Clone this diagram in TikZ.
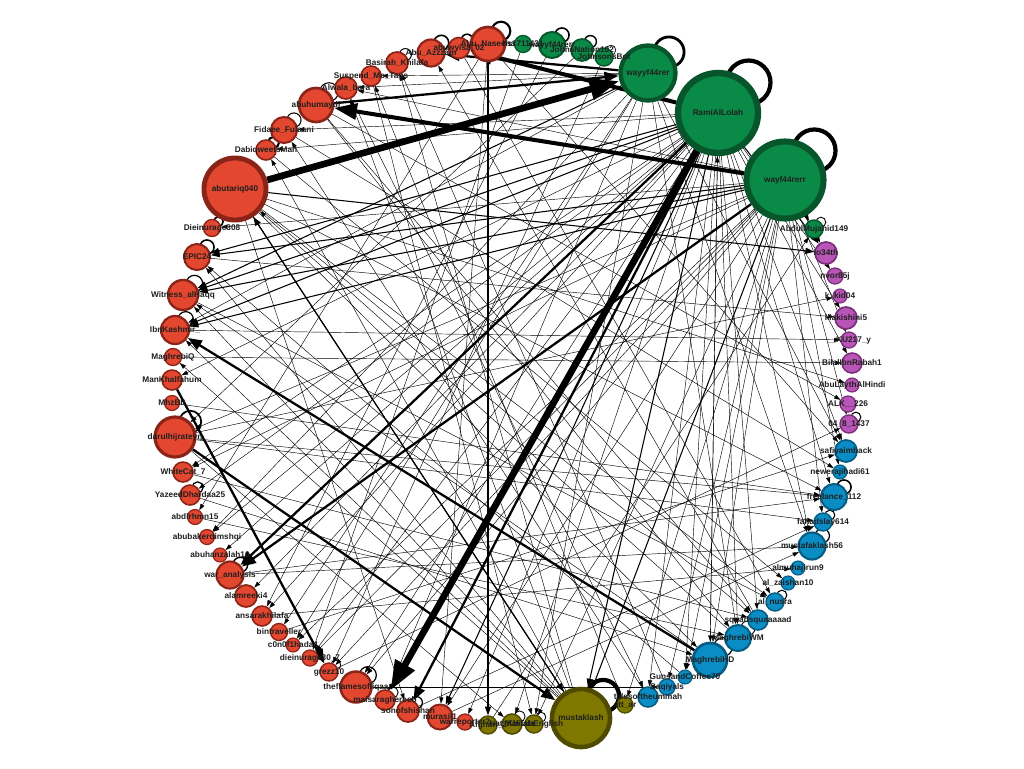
\documentclass[tikz,border=0pt]{standalone}
\usepackage{fontspec}
\setmainfont{Liberation Sans}
\usetikzlibrary{arrows.meta,backgrounds}

\definecolor{redfill}{HTML}{E4472F}
\definecolor{redline}{HTML}{8A2418}
\definecolor{grnfill}{HTML}{0A8A47}
\definecolor{grnline}{HTML}{07552B}
\definecolor{purfill}{HTML}{B856B8}
\definecolor{purline}{HTML}{7B2F7B}
\definecolor{blufill}{HTML}{0A8DC5}
\definecolor{bluline}{HTML}{075C82}
\definecolor{olvfill}{HTML}{7E7800}
\definecolor{olvline}{HTML}{4F4A00}

\tikzset{
	nd/.style={circle,inner sep=0pt,minimum size=#1*0.02cm,line width=#1*0.045pt},
	rnode/.style={nd=#1,fill=redfill,draw=redline},
	gnode/.style={nd=#1,fill=grnfill,draw=grnline},
	pnode/.style={nd=#1,fill=purfill,draw=purline},
	bnode/.style={nd=#1,fill=blufill,draw=bluline},
	onode/.style={nd=#1,fill=olvfill,draw=olvline},
	lbl/.style={font=\fontsize{4.7}{5}\selectfont\bfseries,text=black!88,inner sep=0pt},
	e0/.style={line width=0.25pt,-{Triangle[length=3.5pt,width=2.4pt]}},
	e1/.style={line width=0.6pt,-{Triangle[length=5pt,width=3.5pt]}},
	e2/.style={line width=1.3pt,-{Triangle[length=8pt,width=6pt]}},
	e3/.style={line width=2.3pt,-{Triangle[length=13pt,width=9pt]}},
	e4/.style={line width=3.8pt,-{Triangle[length=17pt,width=12pt]}},
}

% name/x/y/diameter/label
\newcommand\rednodes{naseeha/488/44/34/Abu\_Naseeha, wyisa/459/48/21/abuwyisa\_02,
	azzzam/431/53/27/Abu\_Azzzam, basirah/397/63/22/Basirah\_Khilafa,
	suspend/371/76/20/Suspend\_Me\_Tags, alwala/346/88/22/Alwala\_bara,
	humayd/316/105/34/abuhumaydi, fidaee/284/130/26/Fidaee\_Fulaani,
	dabiq/266/150/20/DabiqweetsMan, tariq/235/189/62/abutariq040,
	dieinu/212/228/17/Dieinurage308, epic/197/257/26/EPIC24,
	witness/183/295/30/Witness\_alHaqq, kashmir/175/330/28/IbnKashmir\_,
	maghq/173/357/17/MaghrebiQ, mankh/172/380/20/ManKhalfahum,
	mhz/172/403/15/MhzBlt, darul/175/437/40/darulhijrateyn,
	white/183/472/20/WhiteCat\_7, yazeed/190/495/20/YazeedDhardaa25,
	abdlr/195/517/15/abdlrhmn15, abubak/207/537/15/abubakerdimshqi,
	hanzal/220/555/14/abuhanzalah10, war/230/575/27/war\_analysis,
	alamr/246/596/22/alamreeki4, ansar/262/616/20/ansarakhilafa,
	bint/279/632/17/bintraveller, c0n/293/645/14/c0n0f1hada4,
	diei30/310/658/16/dieinurage30\_7, grezz/329/672/18/grezz10,
	flames/356/687/31/theflamesofliqaa, maisa/385/700/20/maisaraghereeb,
	sonof/408/711/22/sonofshishan, murasil/440/717/25/murasil1,
	warrep/465/722/16/warreporter2}
\newcommand\grnnodes{hsm/523/44/17/hs1711431, wayy2/552/45/26/wayyf44rerr,
	johnsn/582/50/22/JohnsNation102, johnsb/604/57/18/JohnsonsBot,
	wayyf/648/73/55/wayyf44rer, rami/718/113/80/RamiAlLolah,
	wayfr/785/180/77/wayf44rerr, abdulm/814/229/18/AbdulMujahid149}
\newcommand\purnodes{lo34/826/253/22/lo34th, nvor/835/276/16/nvor85j,
	kkid/840/296/14/k\_kid04, klaki/846/318/22/klakishini5,
	ku/849/340/16/\_\_KU217\_y, bilal/852/363/20/BilalIbnRabah1,
	abulay/852/385/14/AbuLaythAlHindi, alk/848/404/16/ALK\_\_226,
	p0418/849/424/18/04\_8\_1437}
\newcommand\blunodes{safiy/846/451/22/safiyaimback, newer/840/472/14/newerajihadi61,
	freel/834/497/26/freelance\_112, fahad/823/522/18/fahadslay614,
	mustaf/812/546/27/mustafaklash56, muhaj/798/568/14/almuhajirun9,
	zalsh/788/583/14/al\_zaishan10, nusra/775/602/18/al\_nusra,
	squad/758/620/20/squadsquaaaaad, maghwm/738/638/26/MaghrebiWM,
	maghhd/710/660/34/MaghrebiHD, guns/685/677/14/GunsandCoffee70,
	baqi/667/687/16/Baqiyals, tales/648/697/20/talesoftheummah}
\newcommand\olvnodes{olv1/488/725/18/Afghan\_2, olv2/512/724/20/Nat\_Khilafa,
	olv3/534/724/18/MaktabEnglish, musta/581/718/58/mustaklash,
	attar/625/705/16/att\_ar}

\begin{document}
\begin{tikzpicture}[x=0.02cm,y=-0.02cm]
	\useasboundingbox (0,0) rectangle (1024,768);
	
	\foreach \nm/\x/\y/\d/\t in \rednodes {\node[rnode=\d] (\nm) at (\x,\y) {};}
	\foreach \nm/\x/\y/\d/\t in \grnnodes {\node[gnode=\d] (\nm) at (\x,\y) {};}
	\foreach \nm/\x/\y/\d/\t in \purnodes {\node[pnode=\d] (\nm) at (\x,\y) {};}
	\foreach \nm/\x/\y/\d/\t in \blunodes {\node[bnode=\d] (\nm) at (\x,\y) {};}
	\foreach \nm/\x/\y/\d/\t in \olvnodes {\node[onode=\d] (\nm) at (\x,\y) {};}
	
	\begin{scope}[on background layer]
		\fill[white] (0,0) rectangle (1024,768);
		% heavy ties
		\foreach \a/\b in {tariq/wayyf, rami/maisa}
			\draw[e4] (\a) -- (\b);
		\foreach \a/\b in {rami/wyisa, wayfr/humayd}
			\draw[e3] (\a) -- (\b);
		\foreach \a/\b in {humayd/wayyf, wayyf/azzzam, rami/war, wayfr/war, darul/musta,
			maghhd/kashmir, mankh/grezz, wayfr/abdulm, rami/sonof}
			\draw[e2] (\a) -- (\b);
		\foreach \a/\b in {tariq/lo34, wayfr/witness, rami/kashmir, wayfr/kashmir, rami/epic,
			wayfr/epic, musta/tariq, rami/murasil, wayfr/musta, rami/musta, tariq/musta,
			rami/lo34, naseeha/olv1, wayfr/lo34, rami/witness, wayyf/witness}
			\draw[e1] (\a) -- (\b);
		% thin ties
		\foreach \a/\b in {rami/dabiq, rami/fidaee, rami/yazeed, rami/abubak, rami/hanzal,
			rami/alamr, rami/ansar, rami/warrep, rami/olv2, rami/tales, rami/maghwm, rami/squad,
			rami/freel, rami/safiy, rami/mustaf, rami/klaki, rami/bilal, rami/nvor, rami/white,
			rami/mankh, rami/flames, rami/diei30, rami/maghhd, rami/guns,
			wayfr/dieinu, wayfr/grezz, wayfr/diei30, wayfr/flames, wayfr/murasil, wayfr/maghhd,
			wayfr/guns, wayfr/fahad, wayfr/newer, wayfr/p0418, wayfr/ku, wayfr/darul, wayfr/white,
			wayfr/alwala, wayfr/c0n, wayfr/baqi, wayfr/olv3, wayfr/attar,
			wayyf/suspend, wayyf/alwala, wayyf/maghwm, wayyf/olv3, wayyf/bint, wayyf/c0n,
			wayyf/mustaf, wayyf/safiy, wayyf/kashmir, wayyf/maisa, wayyf/abubak,
			tariq/freel, tariq/maghhd, tariq/sonof, tariq/abulay, tariq/squad, tariq/nusra,
			musta/kashmir, musta/epic, musta/alwala, musta/basirah, musta/witness, musta/dabiq,
			musta/maghq, darul/freel, darul/fahad, darul/kkid, darul/olv2,
			naseeha/safiy, naseeha/abdlr, naseeha/murasil, humayd/squad, humayd/maghwm,
			humayd/alk, witness/nusra, epic/klaki, fidaee/newer, dabiq/zalsh, suspend/olv3,
			alwala/tales, flames/baqi, murasil/mustaf, sonof/fahad, ansar/muhaj, war/freel,
			war/mustaf, yazeed/maghhd, abdlr/maghwm, bint/safiy, grezz/p0418, white/squad,
			mhz/freel, maghq/bilal, kashmir/ku, maghhd/witness, maghhd/rami, maghwm/tariq,
			tales/fidaee, guns/epic, squad/azzzam, baqi/basirah, attar/suspend, olv1/abdulm,
			wyisa/nusra, johnsn/darul, hsm/diei30, johnsb/grezz, wayy2/ansar}
			\draw[e0] (\a) -- (\b);
		% self ties
		\foreach \n/\d/\w in {rami/80/2.4, wayfr/77/2.4, wayyf/55/1.6, musta/58/2.4,
			naseeha/34/1.2, wayy2/26/0.9, johnsn/22/0.8, wyisa/21/0.9, azzzam/27/0.9,
			basirah/22/0.6, humayd/34/0.6, fidaee/26/0.6, dabiq/20/1.2, dieinu/17/0.9,
			epic/26/0.9, witness/30/0.7, kashmir/28/0.7, darul/40/1, yazeed/20/0.7, war/27/0.8,
			flames/31/0.7, maisa/20/0.5, sonof/22/0.7, olv2/20/0.5, olv3/18/0.5, maghhd/34/0.7,
			maghwm/26/0.5, nusra/18/0.6, freel/26/0.9, fahad/18/0.6, mustaf/26/0.7,
			p0418/18/0.6, abdulm/18/0.5, grezz/18/0.5, johnsb/18/0.4}
			\draw[line width=\w pt] (\n.north east) circle[radius=\d*0.0055cm];
	\end{scope}
	
	\foreach \nm/\x/\y/\d/\t in \rednodes {\node[lbl] (\nm-l) at (\nm) {\t};}
	\foreach \nm/\x/\y/\d/\t in \grnnodes {\node[lbl] (\nm-l) at (\nm) {\t};}
	\foreach \nm/\x/\y/\d/\t in \purnodes {\node[lbl] (\nm-l) at (\nm) {\t};}
	\foreach \nm/\x/\y/\d/\t in \blunodes {\node[lbl] (\nm-l) at (\nm) {\t};}
	\foreach \nm/\x/\y/\d/\t in \olvnodes {\node[lbl] (\nm-l) at (\nm) {\t};}
\end{tikzpicture}
\end{document}
